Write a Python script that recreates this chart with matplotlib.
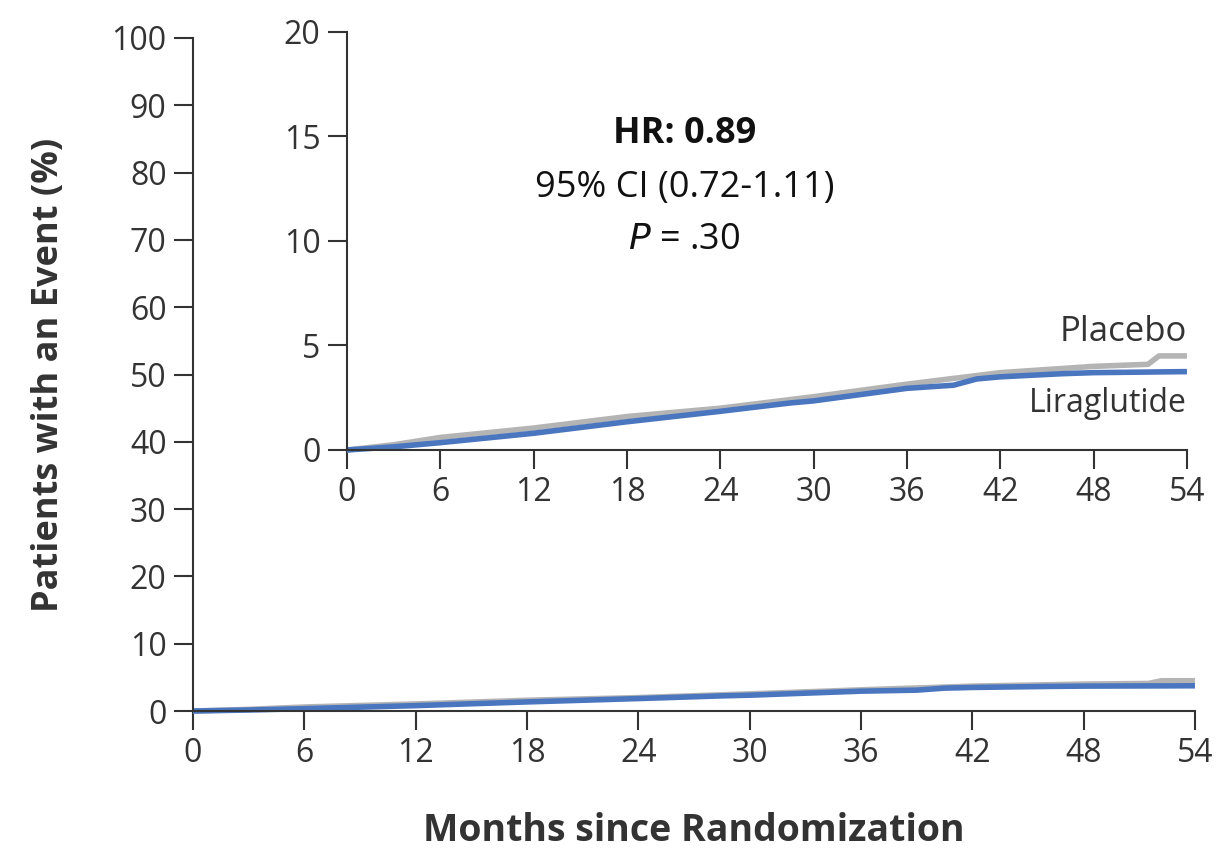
import matplotlib
matplotlib.use("Agg")
import matplotlib.pyplot as plt

# cumulative incidence (%) by month
months_lira = [0, 3, 6, 12, 18, 24, 28.5, 30, 36, 39, 40.5, 42, 46, 48, 54]
pct_lira = [0, 0.15, 0.35, 0.8, 1.35, 1.85, 2.25, 2.35, 2.95, 3.1, 3.4, 3.5, 3.65, 3.7, 3.75]
months_plac = [0, 3, 6, 12, 18, 24, 30, 36, 42, 48, 51.5, 52.2, 54]
pct_plac = [0, 0.25, 0.6, 1.05, 1.6, 2.0, 2.55, 3.15, 3.7, 4.0, 4.1, 4.5, 4.5]

x_ticks = [0, 6, 12, 18, 24, 30, 36, 42, 48, 54]
main_y_ticks = [0, 10, 20, 30, 40, 50, 60, 70, 80, 90, 100]
inset_y_ticks = [0, 5, 10, 15, 20]

blue = "#4a76c0"
grey = "#b4b4b4"
ink = "#333333"
font = "Open Sans"

plt.rcParams["font.family"] = [font, "DejaVu Sans"]

fig = plt.figure(figsize=(12.3, 8.5), dpi=100)


def style_axes(ax, yticks, ymax):
    ax.set_xlim(0, 54)
    ax.set_ylim(0, ymax)
    ax.set_xticks(x_ticks)
    ax.set_yticks(yticks)
    for side in ["top", "right"]:
        ax.spines[side].set_visible(False)
    for side in ["left", "bottom"]:
        ax.spines[side].set_color(ink)
        ax.spines[side].set_linewidth(1.5)
    ax.tick_params(direction="out", length=14, width=1.5, color=ink,
                   labelsize=23, labelcolor=ink, pad=5)
    ax.patch.set_alpha(0)


ax = fig.add_axes([0.1569, 0.1635, 0.8146, 0.7918])
style_axes(ax, main_y_ticks, 100)
ax.plot(months_plac, pct_plac, color=grey, lw=4, solid_capstyle="butt", clip_on=False)
ax.plot(months_lira, pct_lira, color=blue, lw=4, solid_capstyle="butt", clip_on=False)
ax.set_xlabel("Months since Randomization", fontsize=27, fontweight="bold",
              color=ink, labelpad=30)
ax.set_ylabel("Patients with an Event (%)", fontsize=26, fontweight="bold",
              color=ink, labelpad=32)

ins = fig.add_axes([0.2821, 0.4706, 0.6829, 0.4918])
style_axes(ins, inset_y_ticks, 20)
ins.plot(months_plac, pct_plac, color=grey, lw=4, solid_capstyle="butt", clip_on=False)
ins.plot(months_lira, pct_lira, color=blue, lw=4, solid_capstyle="butt", clip_on=False)

ins.text(54, 4.85, "Placebo", ha="right", va="bottom", fontsize=25, color=ink)
ins.text(54, 3.0, "Liraglutide", ha="right", va="top", fontsize=23, color=ink)

# hazard ratio summary
ins.text(21.7, 15.1, "HR: 0.89", ha="center", va="center", fontsize=26,
         fontweight="bold", color="#111111")
ins.text(21.7, 12.55, "95% CI (0.72-1.11)", ha="center", va="center",
         fontsize=26, color="#111111")
ins.text(21.7, 10.05, r"$\it{P}$ = .30", ha="center", va="center",
         fontsize=26, color="#111111")

fig.savefig("out.png", dpi=100, facecolor="white")
